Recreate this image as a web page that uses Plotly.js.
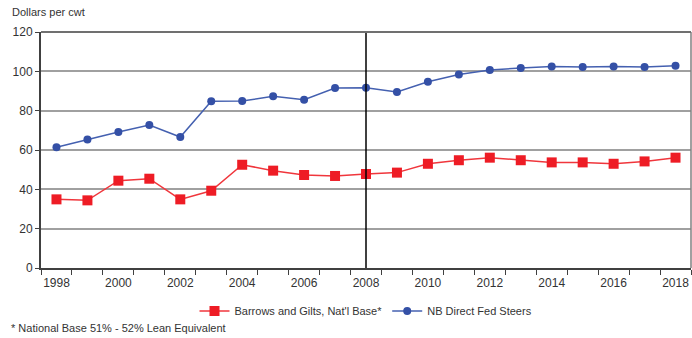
<!DOCTYPE html>
<html>
<head>
<meta charset="utf-8">
<script src="https://cdn.plot.ly/plotly-3.0.1.min.js"></script>
<style>html,body{margin:0;padding:0;background:#fff;}#chart{width:692px;height:338px;}</style>
</head>
<body>
<div id="chart"></div>
<script>
var years = [1998,1999,2000,2001,2002,2003,2004,2005,2006,2007,2008,2009,2010,2011,2012,2013,2014,2015,2016,2017,2018];
var barrowsGilts = [34.9,34.4,44.4,45.4,34.9,39.3,52.5,49.5,47.3,46.8,47.8,48.5,53.0,54.8,56.1,54.8,53.7,53.7,53.0,54.2,56.1];
var directFedSteers = [61.4,65.3,69.2,72.7,66.6,84.8,84.9,87.3,85.6,91.5,91.7,89.5,94.7,98.4,100.7,101.7,102.4,102.2,102.4,102.2,102.9];
var xTickYears = [1998,2000,2002,2004,2006,2008,2010,2012,2014,2016,2018];
var yTicks = [0,20,40,60,80,100,120];
var seriesNames = ["Barrows and Gilts, Nat'l Base*", "NB Direct Fed Steers"];
var dividerYear = 2008;

var font = "Liberation Sans, Arial, sans-serif";
var textColor = '#333';
var traces = [
  {x: years, y: barrowsGilts, name: seriesNames[0], type: 'scatter', mode: 'lines+markers',
   line: {color: '#F0363C', width: 1.5}, marker: {symbol: 'square', size: 10, color: '#EE1C25'}},
  {x: years, y: directFedSteers, name: seriesNames[1], type: 'scatter', mode: 'lines+markers',
   line: {color: '#4460B0', width: 1.5}, marker: {symbol: 'circle', size: 8, color: '#3450A6'}}
];
var layout = {
  width: 692, height: 338,
  margin: {l: 41, r: 1, t: 32, b: 70},
  paper_bgcolor: '#fff', plot_bgcolor: '#fff',
  showlegend: true,
  legend: {orientation: 'h', x: 0.5, xanchor: 'center', y: -0.182, yanchor: 'middle',
           font: {family: font, size: 11, color: textColor}, traceorder: 'normal'},
  xaxis: {range: [1997.5, 2018.5], tickvals: xTickYears, ticktext: xTickYears.map(String),
          ticks: '', showgrid: false, zeroline: false, ticklabelstandoff: 3,
          showline: true, linecolor: '#404040', linewidth: 2,
          tickfont: {family: font, size: 12, color: textColor},
          minor: {ticks: 'outside', dtick: 1, tick0: 1997.5, ticklen: 5, tickcolor: '#404040', tickwidth: 1, showgrid: false}},
  yaxis: {range: [0, 120], tickvals: yTicks, ticks: 'outside', ticklen: 4, tickcolor: '#404040',
          showgrid: true, gridcolor: '#a0a0a0', gridwidth: 2, zeroline: false,
          showline: true, linecolor: '#404040', linewidth: 2,
          tickfont: {family: font, size: 12, color: textColor}},
  shapes: [
    {type: 'line', xref: 'x', yref: 'paper', x0: dividerYear, x1: dividerYear, y0: 0, y1: 1,
     line: {color: '#000', width: 1.5}},
    {type: 'line', xref: 'paper', yref: 'paper', x0: 1, x1: 1, y0: 0, y1: 1,
     line: {color: '#808080', width: 1.5}},
    {type: 'line', xref: 'paper', yref: 'paper', x0: 0, x1: 1, y0: 1, y1: 1,
     line: {color: '#707070', width: 2}}
  ],
  annotations: [
    {text: 'Dollars per cwt', xref: 'paper', yref: 'paper', x: -0.048, y: 1.085,
     xanchor: 'left', yanchor: 'middle', showarrow: false, font: {family: font, size: 11, color: textColor}},
    {text: '* National Base 51% - 52% Lean Equivalent', xref: 'paper', yref: 'paper', x: -0.05, y: -0.254,
     xanchor: 'left', yanchor: 'middle', showarrow: false, font: {family: font, size: 11, color: textColor}}
  ]
};
Plotly.newPlot('chart', traces, layout, {displayModeBar: false, staticPlot: true});
</script>
</body>
</html>
